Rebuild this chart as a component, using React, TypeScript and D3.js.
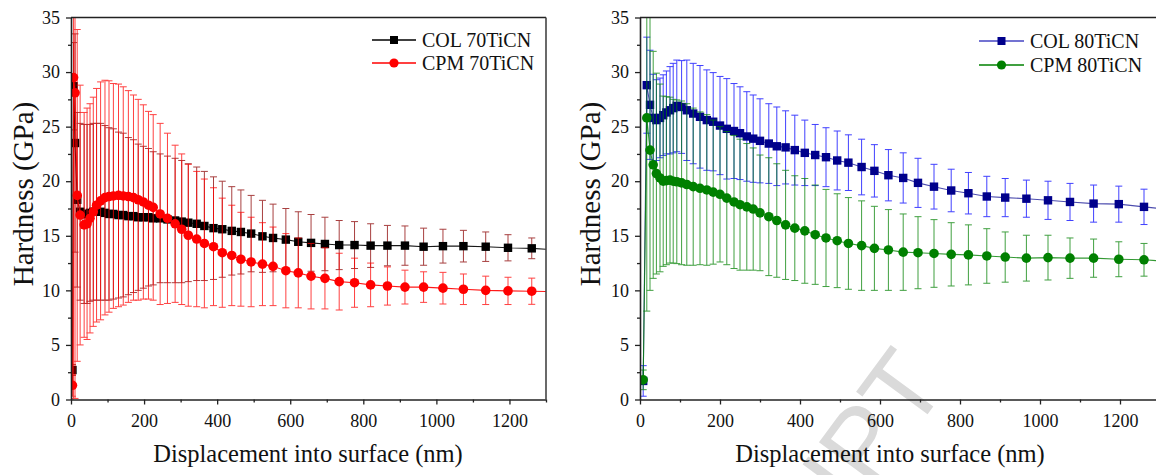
import React, { useEffect, useRef } from "react";
import * as d3 from "d3";

// displacement (nm) of the plotted points, left panel (70TiCN)
const depthA = [4, 7, 11, 17, 25, 36, 44, 52, 61, 70, 81, 93, 104, 116, 130, 143, 157, 171, 184, 198,
  212, 225, 244, 264, 285, 303, 321, 344, 365, 390, 414, 440, 465, 493, 524, 553, 588, 622, 657, 695,
  734, 776, 820, 866, 914, 965, 1018, 1074, 1135, 1196, 1261];

const col70 = [2.7, 28.7, 23.5, 18.3, 17.2, 17.0, 17.0, 17.1, 17.2, 17.2,
  17.2, 17.1, 17.0, 17.0, 16.9, 16.9, 16.8, 16.8, 16.7, 16.7,
  16.7, 16.6, 16.6, 16.5, 16.4, 16.3, 16.2, 16.1, 15.9, 15.7,
  15.6, 15.45, 15.35, 15.2, 14.95, 14.8, 14.65, 14.45, 14.35, 14.25,
  14.15, 14.15, 14.1, 14.1, 14.1, 14.0, 14.05, 14.05, 14.0, 13.9, 13.85];
const col70Err = [0.5, 4, 10, 8.0, 8.1, 8.2, 8.2, 8.1, 8.1, 8.1,
  8.1, 8.0, 7.9, 7.8, 7.6, 7.5, 7.2, 7.0, 6.7, 6.5,
  6.3, 6.1, 5.9, 5.8, 5.7, 5.6, 5.4, 5.2, 5.0, 4.7,
  4.4, 4.05, 3.85, 3.5, 3.3, 3.1, 2.85, 2.75, 2.6, 2.45,
  2.25, 2.15, 2.0, 1.85, 1.8, 1.7, 1.55, 1.45, 1.35, 1.2, 0.95];
const col70End = 13.77;

const cpm70 = [1.3, 29.5, 28.1, 18.7, 16.9, 16.0, 16.1, 16.6, 17.2, 17.8,
  18.2, 18.5, 18.6, 18.65, 18.7, 18.65, 18.6, 18.5, 18.3, 18.1,
  17.8, 17.6, 17.0, 16.6, 16.1, 15.6, 15.05, 14.7, 14.3, 14.0,
  13.45, 13.2, 12.85, 12.6, 12.4, 12.2, 11.8, 11.6, 11.3, 11.1,
  10.8, 10.7, 10.5, 10.4, 10.3, 10.3, 10.2, 10.1, 10.0, 9.95, 9.92];
const cpm70Err = [1.0, 30, 28, 15.2, 11.9, 10.3, 10.6, 10.5, 10.5, 10.7,
  10.9, 10.75, 10.6, 10.3, 10.2, 10.0, 9.7, 9.4, 9.2, 8.9,
  8.6, 8.5, 8.3, 7.8, 7.2, 6.9, 6.5, 6.2, 5.9, 5.4,
  5.0, 4.6, 4.3, 4.1, 3.8, 3.6, 3.4, 3.2, 3.0, 2.8,
  2.6, 2.25, 2.0, 1.75, 1.55, 1.4, 1.45, 1.4, 1.3, 1.25, 1.2];
const cpm70End = 9.9;

// right panel (80TiCN)
const depthB = [8, 17, 25, 33, 41, 50, 58, 66, 75, 83, 92, 104, 117, 133, 150, 167, 183, 200, 217, 235,
  250, 267, 283, 300, 322, 342, 364, 387, 412, 438, 465, 493, 521, 554, 586, 621, 658, 695, 735, 778,
  821, 867, 913, 966, 1020, 1075, 1134, 1197, 1260];

const col80 = [1.7, 28.8, 27.0, 25.8, 25.6, 25.8, 26.05, 26.3, 26.5, 26.7,
  26.9, 26.8, 26.5, 26.2, 25.9, 25.6, 25.45, 25.1, 24.8, 24.6,
  24.4, 24.1, 23.9, 23.7, 23.45, 23.2, 23.1, 22.85, 22.6, 22.4,
  22.2, 21.9, 21.7, 21.3, 20.95, 20.55, 20.3, 19.85, 19.5, 19.15,
  18.9, 18.6, 18.5, 18.4, 18.25, 18.1, 17.95, 17.9, 17.65];
const col80Err = [1.4, 4.4, 5.0, 4.0, 3.7, 3.65, 3.7, 3.8, 4.0, 4.1,
  4.2, 4.25, 4.6, 4.6, 4.7, 4.6, 4.5, 4.5, 4.6, 4.35,
  4.25, 4.1, 4.0, 3.85, 3.65, 3.6, 3.35, 3.2, 3.0, 2.8,
  2.7, 2.7, 2.55, 2.55, 2.4, 2.35, 2.3, 2.25, 2.05, 1.95,
  1.9, 1.85, 1.75, 1.7, 1.75, 1.7, 1.7, 1.65, 1.62];
const col80End = 17.5;

const cpm80 = [1.8, 25.8, 22.85, 21.5, 20.7, 20.3, 20.0, 20.05, 20.1, 20.0,
  19.95, 19.85, 19.7, 19.5, 19.35, 19.2, 19.0, 18.8, 18.45, 18.1,
  17.85, 17.65, 17.45, 17.1, 16.75, 16.4, 16.0, 15.7, 15.45, 15.1,
  14.8, 14.55, 14.3, 14.1, 13.85, 13.7, 13.5, 13.45, 13.38, 13.3,
  13.25, 13.15, 13.05, 12.95, 13.0, 12.95, 12.95, 12.85, 12.8];
const cpm80Err = [0.9, 17.7, 12.85, 10.4, 9.2, 8.6, 7.8, 7.7, 7.6, 7.5,
  7.5, 7.5, 7.4, 7.2, 7.0, 6.9, 6.6, 6.2, 6.1, 6.1,
  6.0, 5.8, 5.6, 5.3, 5.4, 5.2, 5.0, 4.8, 4.8, 4.55,
  4.45, 4.3, 4.2, 4.1, 3.85, 3.7, 3.5, 3.3, 3.1, 2.9,
  2.75, 2.5, 2.3, 2.1, 2.05, 1.85, 1.75, 1.6, 1.5];
const cpm80End = 12.7;

const xTicks = [0, 200, 400, 600, 800, 1000, 1200];
const xMinor = [100, 300, 500, 700, 900, 1100, 1300];
const yTicks = [0, 5, 10, 15, 20, 25, 30, 35];
const yMinor = [2.5, 7.5, 12.5, 17.5, 22.5, 27.5, 32.5];
const xMax = 1300;
const yMax = 35;

const W = 1156;
const H = 475;
const SERIF = "'Liberation Serif', 'Times New Roman', serif";

type Series = {
  name: string;
  depth: number[];
  values: number[];
  err: number[];
  end: number;
  marker: "square" | "circle";
  fill: string;
  line: string;
  lineOpacity: number;
  legendLine: string;
  legendWidth: number;
  errColor: string;
};

type Box = {
  id: string;
  left: number;
  right: number;
  top: number;
  bottom: number;
  titleX: number;
  yTitleX: number;
  border: boolean;
  legend: { x1: number; x2: number; tx: number; rows: number[] };
};

function drawPanel(svg: any, box: Box, series: Series[]) {
  const x = d3.scaleLinear().domain([0, xMax]).range([box.left, box.right]);
  const y = d3.scaleLinear().domain([0, yMax]).range([box.bottom, box.top]);

  svg.append("clipPath").attr("id", box.id)
    .append("rect")
    .attr("x", box.left).attr("y", box.top)
    .attr("width", box.right - box.left).attr("height", box.bottom - box.top);

  const plot = svg.append("g").attr("clip-path", `url(#${box.id})`);

  series.forEach(s => {
    const pts = s.depth.map((d, i) => ({ d, v: s.values[i], e: s.err[i] }));

    // error bars
    const eb = plot.append("g").attr("stroke", s.errColor).attr("stroke-width", 1).attr("opacity", 0.75);
    pts.forEach(p => {
      const cx = x(p.d);
      const lo = y(p.v - p.e);
      const hi = y(p.v + p.e);
      eb.append("line").attr("x1", cx).attr("x2", cx).attr("y1", lo).attr("y2", hi);
      eb.append("line").attr("x1", cx - 3.5).attr("x2", cx + 3.5).attr("y1", lo).attr("y2", lo);
      eb.append("line").attr("x1", cx - 3.5).attr("x2", cx + 3.5).attr("y1", hi).attr("y2", hi);
    });

    // line
    const linePts = pts.map(p => [x(p.d), y(p.v)] as [number, number]);
    linePts.push([x(xMax), y(s.end)]);
    plot.append("path")
      .attr("d", d3.line()(linePts))
      .attr("fill", "none")
      .attr("stroke", s.line)
      .attr("stroke-opacity", s.lineOpacity)
      .attr("stroke-width", 1.1);

    // markers
    const mk = plot.append("g").attr("fill", s.fill);
    pts.forEach(p => {
      if (s.marker === "square") {
        mk.append("rect").attr("x", x(p.d) - 4.2).attr("y", y(p.v) - 4.2).attr("width", 8.4).attr("height", 8.4);
      } else {
        mk.append("circle").attr("cx", x(p.d)).attr("cy", y(p.v)).attr("r", 4.8);
      }
    });
  });

  // axes
  const axisColor = "#222";
  const gx = svg.append("g").attr("transform", `translate(0,${box.bottom})`)
    .call(d3.axisBottom(x).tickValues(xTicks).tickFormat(d3.format("d")).tickSize(5).tickSizeOuter(0).tickPadding(10));
  svg.append("g").attr("transform", `translate(0,${box.bottom})`)
    .call(d3.axisBottom(x).tickValues(xMinor).tickSize(3).tickFormat(() => ""))
    .call((g: any) => g.select(".domain").remove());
  const gy = svg.append("g").attr("transform", `translate(${box.left},0)`)
    .call(d3.axisLeft(y).tickValues(yTicks).tickFormat(d3.format("d")).tickSize(5).tickSizeOuter(0).tickPadding(6));
  svg.append("g").attr("transform", `translate(${box.left},0)`)
    .call(d3.axisLeft(y).tickValues(yMinor).tickSize(3).tickFormat(() => ""))
    .call((g: any) => g.select(".domain").remove());

  [gx, gy].forEach(g => {
    g.attr("font-family", SERIF).attr("font-size", 18);
    g.select(".domain").attr("stroke", axisColor).attr("stroke-width", 1.6);
    g.selectAll("text").attr("font-family", SERIF).attr("font-size", 18).attr("fill", "#111");
  });
  svg.selectAll(".tick line").attr("stroke", axisColor).attr("stroke-width", 1.3);

  // frame
  svg.append("line").attr("x1", box.left).attr("x2", box.right).attr("y1", box.top).attr("y2", box.top)
    .attr("stroke", axisColor).attr("stroke-width", 1.6);
  if (box.border) {
    svg.append("line").attr("x1", box.right).attr("x2", box.right).attr("y1", box.top).attr("y2", box.bottom)
      .attr("stroke", "#444").attr("stroke-width", 1.6);
  }

  // titles
  svg.append("text")
    .attr("x", box.titleX).attr("y", 462)
    .attr("text-anchor", "middle")
    .attr("font-family", SERIF).attr("font-size", 24.5).attr("fill", "#111")
    .text("Displacement into surface (nm)");
  svg.append("text")
    .attr("transform", `translate(${box.yTitleX},194) rotate(-90)`)
    .attr("text-anchor", "middle")
    .attr("font-family", SERIF).attr("font-size", 29).attr("fill", "#111")
    .text("Hardness (GPa)");

  // legend
  series.forEach((s, i) => {
    const ly = box.legend.rows[i];
    const mid = (box.legend.x1 + box.legend.x2) / 2;
    svg.append("line").attr("x1", box.legend.x1).attr("x2", box.legend.x2).attr("y1", ly).attr("y2", ly)
      .attr("stroke", s.legendLine).attr("stroke-width", s.legendWidth);
    if (s.marker === "square") {
      svg.append("rect").attr("x", mid - 4).attr("y", ly - 4).attr("width", 8).attr("height", 8).attr("fill", s.fill);
    } else {
      svg.append("circle").attr("cx", mid).attr("cy", ly).attr("r", 4.6).attr("fill", s.fill);
    }
    svg.append("text")
      .attr("x", box.legend.tx).attr("y", ly + 7)
      .attr("font-family", SERIF).attr("font-size", 20).attr("fill", "#111")
      .text(s.name);
  });
}

const App = () => {
  const ref = useRef<SVGSVGElement>(null);

  useEffect(() => {
    const svg = d3.select(ref.current);
    svg.selectAll("*").remove();

    // faint "accepted manuscript" watermark of the source page
    svg.append("text")
      .attr("transform", "translate(949,385) rotate(-53.6)")
      .attr("text-anchor", "end")
      .attr("font-family", "'Liberation Sans', Arial, sans-serif")
      .attr("font-size", 103)
      .attr("fill", "#dadada")
      .text("ACCEPTED MANUSCRIPT");

    drawPanel(svg, {
      id: "clipA", left: 71, right: 546, top: 17.5, bottom: 399.5, titleX: 308, yTitleX: 33, border: true,
      legend: { x1: 372, x2: 416, tx: 422, rows: [40, 63] },
    }, [
      { name: "COL 70TiCN", depth: depthA, values: col70, err: col70Err, end: col70End, marker: "square",
        fill: "#000", line: "#000", lineOpacity: 0.9, legendLine: "#000", legendWidth: 1.3, errColor: "#8b0000" },
      { name: "CPM 70TiCN", depth: depthA, values: cpm70, err: cpm70Err, end: cpm70End, marker: "circle",
        fill: "#ff0000", line: "#ff0000", lineOpacity: 0.9, legendLine: "#ff0000", legendWidth: 1.3, errColor: "#ff0000" },
    ]);

    drawPanel(svg, {
      id: "clipB", left: 640, right: 1160, top: 17.5, bottom: 399.5, titleX: 890, yTitleX: 600, border: false,
      legend: { x1: 979, x2: 1024, tx: 1030, rows: [41, 65] },
    }, [
      { name: "COL 80TiCN", depth: depthB, values: col80, err: col80Err, end: col80End, marker: "square",
        fill: "#00008b", line: "#00008b", lineOpacity: 0.7, legendLine: "#7373d2", legendWidth: 2, errColor: "#0000ff" },
      { name: "CPM 80TiCN", depth: depthB, values: cpm80, err: cpm80Err, end: cpm80End, marker: "circle",
        fill: "#008000", line: "#008000", lineOpacity: 0.8, legendLine: "#008000", legendWidth: 1.3, errColor: "#008000" },
    ]);
  }, []);

  return (
    <svg
      ref={ref}
      width={W}
      height={H}
      style={{ position: "absolute", left: 0, top: 0, background: "#fff" }}
    />
  );
};

export default App;
